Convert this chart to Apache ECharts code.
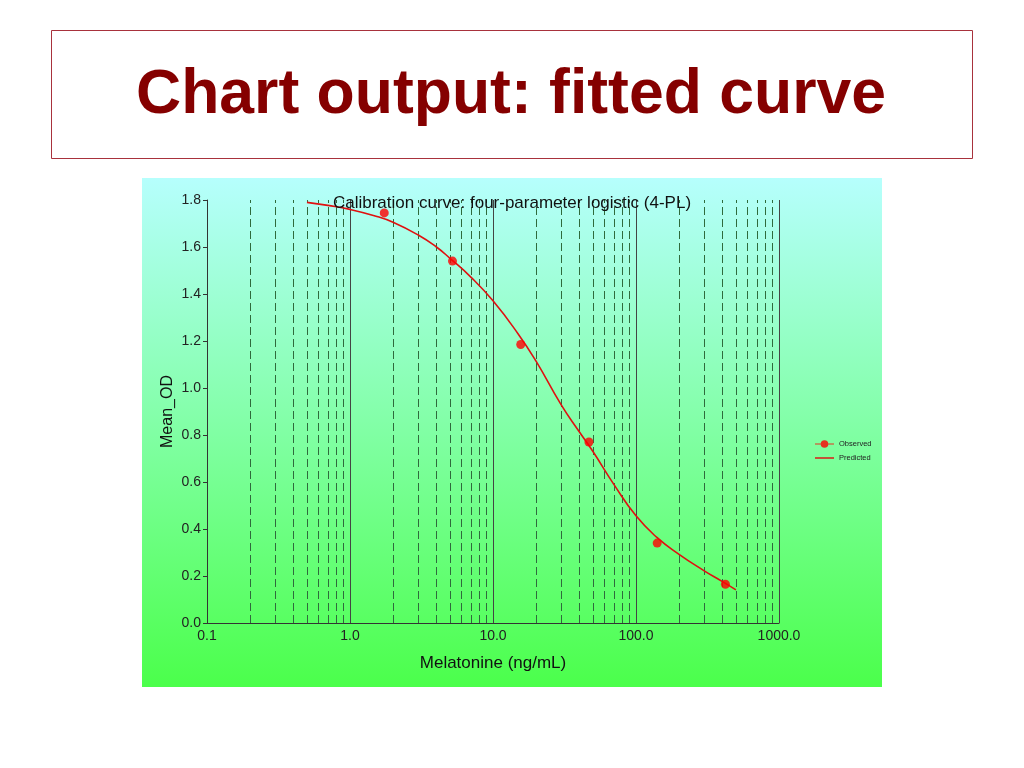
<!DOCTYPE html>
<html>
<head>
<meta charset="utf-8">
<script src="https://cdn.jsdelivr.net/npm/echarts@6/dist/echarts.min.js"></script>
<style>
html,body{margin:0;padding:0;background:#fff;}
#c{width:1024px;height:768px;}
</style>
</head>
<body>
<div id="c"></div>
<script>
// ---- data ----
var pageTitle = 'Chart output: fitted curve';
var chartTitle = 'Calibration curve: four-parameter logistic (4-PL)';
var xName = 'Melatonine (ng/mL)';
var yName = 'Mean_OD';
var seriesNames = ['Observed', 'Predicted'];
var observedConc = [1.736, 5.208, 15.625, 46.875, 140.625, 421.875];
var observedOD = [1.745, 1.54, 1.185, 0.77, 0.34, 0.165];
var predictedConc = [0.5, 0.7, 1, 1.5, 2, 3, 4, 5, 7, 10, 15, 20, 30, 40, 50, 70, 100, 140, 200, 300, 400, 500];
var predictedOD = [1.79, 1.777, 1.76, 1.732, 1.705, 1.651, 1.601, 1.552, 1.472, 1.371, 1.23, 1.114, 0.928, 0.815, 0.73, 0.59, 0.456, 0.364, 0.292, 0.222, 0.177, 0.141];
var minorGridX = [0.2,0.3,0.4,0.5,0.6,0.7,0.8,0.9, 2,3,4,5,6,7,8,9, 20,30,40,50,60,70,80,90, 200,300,400,500,600,700,800,900];

var chart = echarts.init(document.getElementById('c'), null, {renderer: 'canvas'});
var FONT = '"Liberation Sans", Arial, Helvetica, sans-serif';

function zip(a, b) { return a.map(function (v, i) { return [v, b[i]]; }); }

var option = {
  animation: false,
  textStyle: {fontFamily: FONT},
  graphic: [
    {type: 'rect', z: -10, silent: true, shape: {x: 51.5, y: 30.5, width: 921, height: 128},
     style: {fill: '#fff', stroke: '#a8323c', lineWidth: 1}},
    {type: 'text', z: 10, silent: true, x: 511, y: 96,
     style: {text: pageTitle, fill: '#850000', font: 'bold 62.5px ' + FONT, align: 'center', verticalAlign: 'middle'}},
    {type: 'rect', z: -10, silent: true, shape: {x: 142, y: 178, width: 740, height: 509},
     style: {fill: new echarts.graphic.LinearGradient(0, 0, 0, 1, [
       {offset: 0, color: '#b6fffd'}, {offset: 1, color: '#4bff4b'}])}}
  ],
  title: {
    text: chartTitle, left: 507, top: 190, textAlign: 'center', z: 20,
    textStyle: {fontSize: 17, fontWeight: 'normal', color: '#111', fontFamily: FONT}
  },
  legend: {
    orient: 'vertical', left: 810, top: 435, itemWidth: 19, itemHeight: 8, itemGap: 6,
    symbolKeepAspect: true,
    textStyle: {fontSize: 7.5, color: '#222', fontFamily: FONT},
    data: [
      {name: seriesNames[0], icon: 'path://M0,3.4 L20,3.4 L20,4.6 L0,4.6 Z M14,4 A4,4 0 1,1 6,4 A4,4 0 1,1 14,4 Z', itemStyle: {color: '#ff0000'}},
      {name: seriesNames[1], icon: 'path://M0,0 L20,0 L20,1.5 L0,1.5 Z', itemStyle: {color: '#e01010'}}
    ]
  },
  grid: {left: 207, right: 245, top: 200, bottom: 145},
  xAxis: {
    type: 'log', logBase: 10, min: 0.1, max: 1000,
    name: xName, nameLocation: 'middle', nameGap: 32, nameMoveOverlap: false,
    nameTextStyle: {fontSize: 17, color: '#111', fontFamily: FONT},
    axisLine: {show: true, lineStyle: {color: '#333', width: 1}},
    axisTick: {show: false},
    axisLabel: {fontSize: 14, color: '#222', margin: 6, fontFamily: FONT, formatter: function (v) { return (+v).toFixed(1); }},
    splitLine: {show: true, lineStyle: {color: '#444', width: 1, type: 'solid'}}
  },
  yAxis: {
    type: 'value', min: 0, max: 1.8, interval: 0.2,
    name: yName, nameLocation: 'middle', nameGap: 31, nameRotate: 90, nameMoveOverlap: false,
    nameTextStyle: {fontSize: 16, color: '#111', fontFamily: FONT},
    axisLine: {show: true, lineStyle: {color: '#333', width: 1}},
    axisTick: {show: true, length: 4, lineStyle: {color: '#333'}},
    axisLabel: {fontSize: 14, color: '#222', margin: 6, fontFamily: FONT, formatter: function (v) { return (+v).toFixed(1); }},
    splitLine: {show: false}
  },
  series: [
    {
      name: seriesNames[0], type: 'scatter', z: 5,
      symbol: 'circle', symbolSize: 9,
      itemStyle: {color: '#ff0000'},
      data: zip(observedConc, observedOD)
    },
    {
      name: seriesNames[1], type: 'line', z: 4, smooth: 0.5,
      showSymbol: false, symbol: 'none',
      lineStyle: {color: '#e01010', width: 1.6},
      itemStyle: {color: '#e01010'},
      data: zip(predictedConc, predictedOD),
      markLine: {
        silent: true, symbol: ['none', 'none'], animation: false, z: 1,
        label: {show: false},
        lineStyle: {color: '#2f6a3c', width: 1, type: [8, 4]},
        data: minorGridX.map(function (v) { return {xAxis: v}; })
      }
    }
  ]
};
chart.setOption(option);
</script>
</body>
</html>
